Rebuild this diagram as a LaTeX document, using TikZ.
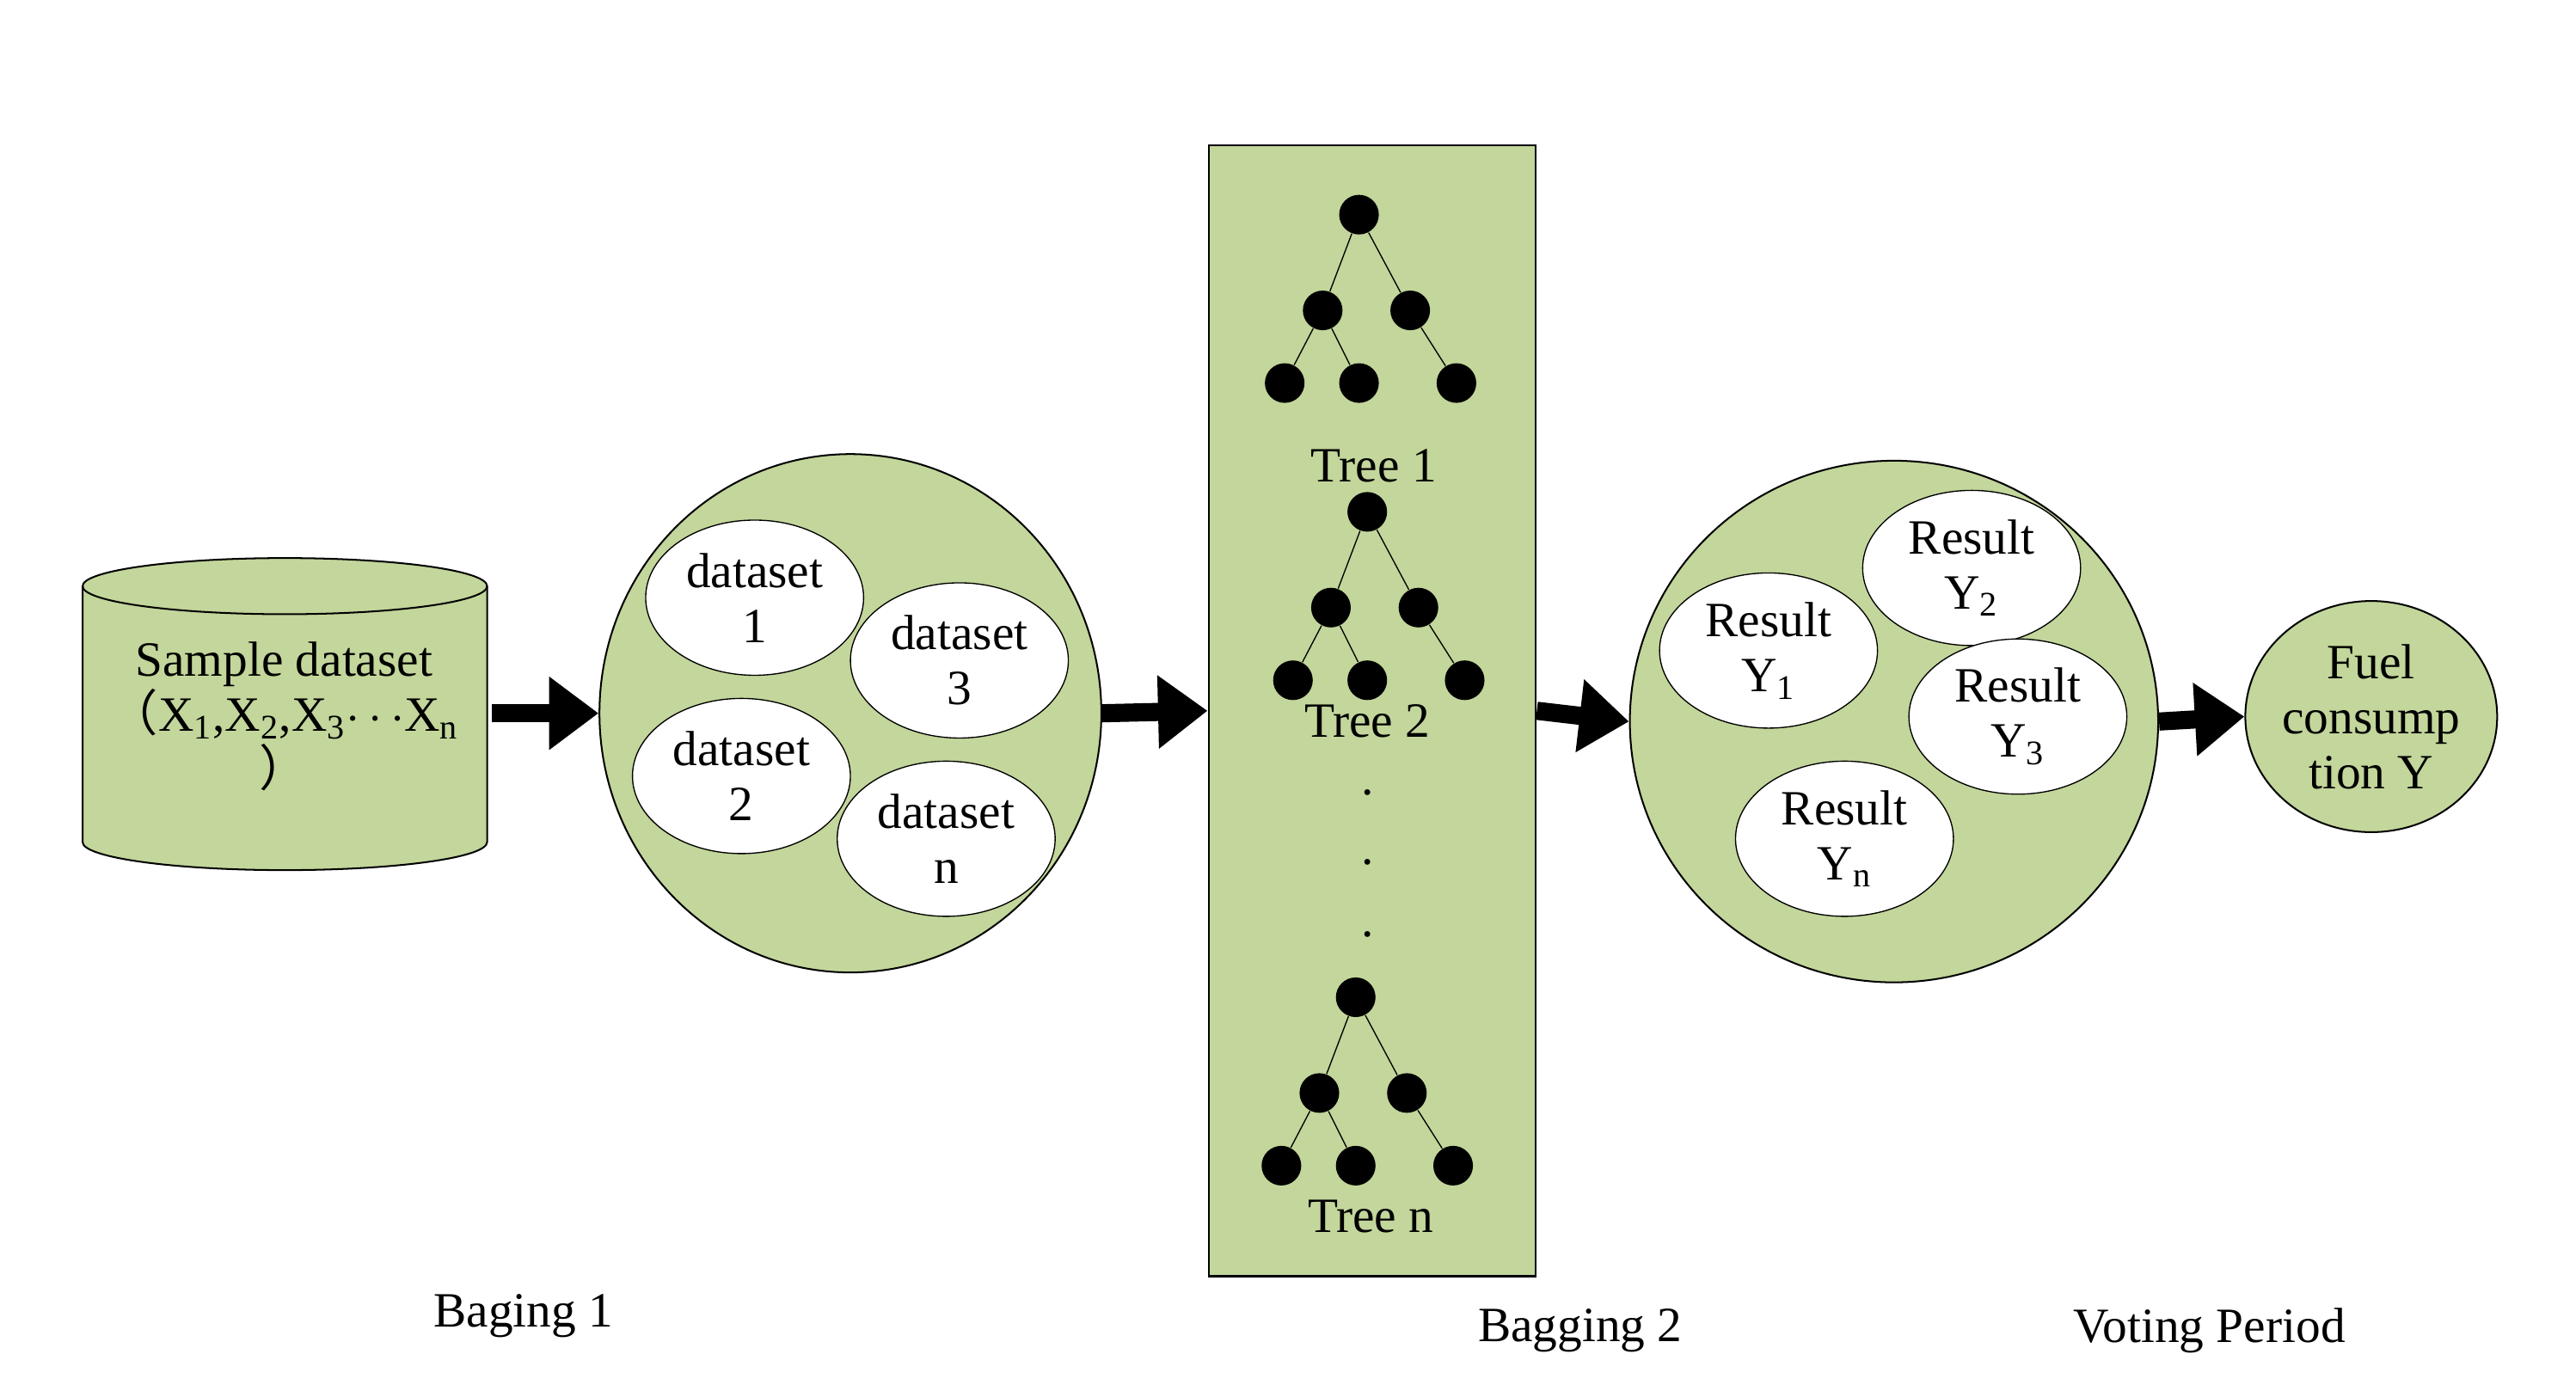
\documentclass[tikz,border=0pt]{standalone}
\usepackage{fontspec}
\setmainfont{Liberation Serif}
\newfontfamily\cjk{Noto Sans CJK SC}
\usetikzlibrary{arrows.meta,shapes.geometric}
\definecolor{lg}{HTML}{C3D69B}
\newcommand{\mytree}[3]{%
  \node[dot] (#1r) at (#2,#3) {};
  \node[dot] (#1a) at (#2-22,#3+58) {};
  \node[dot] (#1b) at (#2+31,#3+58) {};
  \node[dot] (#1c) at (#2-45,#3+102) {};
  \node[dot] (#1d) at (#2,#3+102) {};
  \node[dot] (#1e) at (#2+59,#3+102) {};
  \draw[thin] (#1r)--(#1a) (#1r)--(#1b) (#1a)--(#1c) (#1a)--(#1d) (#1b)--(#1e);}
\begin{document}
\begin{tikzpicture}[x=0.02cm,y=-0.02cm,
  txt/.style={font=\fontsize{17}{19}\selectfont,align=center,inner sep=0pt},
  dot/.style={circle,fill=black,minimum size=0.48cm,inner sep=0pt},
  big/.style={ellipse,draw,fill=lg,line width=0.6pt},
  sm/.style={ellipse,draw,fill=white,minimum width=2.64cm,minimum height=1.88cm,txt},
  arr/.style={line width=0.22cm,-{Triangle[length=0.6cm,width=0.85cm]}}]
\useasboundingbox (0,0) rectangle (1560,842);
% cylinder
\path[fill=lg,draw,line width=0.6pt] (50,355) -- (50,510) arc[start angle=180,end angle=0,x radius=122.5,y radius=17] -- (295,355) arc[start angle=0,end angle=-180,x radius=122.5,y radius=17] -- cycle;
\draw[line width=0.6pt] (50,355) arc[start angle=180,end angle=0,x radius=122.5,y radius=17];
\node[txt] (cyl) at (172,434) {Sample dataset\\{\cjk （}X\textsubscript{1},X\textsubscript{2},X\textsubscript{3}$\cdots$X\textsubscript{n}\\{\cjk ）}};
\coordinate (cylE) at (298,432);
% circle 1
\node[big,minimum width=6.08cm,minimum height=6.28cm] (c1) at (515,432) {};
\node[sm] (d1) at (457,362) {dataset\\1};
\node[sm] (d3) at (581,400) {dataset\\3};
\node[sm] (d2) at (449,470) {dataset\\2};
\node[sm] (dn) at (573,508) {dataset\\n};
% rectangle
\node[draw,fill=lg,line width=0.8pt,minimum width=3.96cm,minimum height=13.7cm,inner sep=0pt] (rect) at (831,430.5) {};
\mytree{a}{823}{130}
\node[txt] (t1) at (832,282) {Tree 1};
\mytree{b}{828}{310}
\node[txt] (t2) at (828,437) {Tree 2};
\node[txt] (p1) at (828,480) {.};
\node[txt] (p2) at (828,522) {.};
\node[txt] (p3) at (828,566) {.};
\mytree{c}{821}{604}
\node[txt] (tn) at (830,737) {Tree n};
% circle 2
\node[big,minimum width=6.4cm,minimum height=6.32cm] (c2) at (1147,437) {};
\node[sm] (r1) at (1071,394) {Result\\Y\textsubscript{1}};
\node[sm] (r2) at (1194,344) {Result\\Y\textsubscript{2}};
\node[sm] (r3) at (1222,434) {Result\\Y\textsubscript{3}};
\node[sm] (rn) at (1117,508) {Result\\Y\textsubscript{n}};
\node[big,minimum width=3cm,minimum height=2.8cm,txt] (fuel) at (1436,434) {Fuel\\consump\\tion Y};
% arrows
\draw[arr] (cylE) -- (c1.west);
\draw[arr] (c1.east) -- (rect.west);
\draw[arr] (rect.east) -- (c2.west);
\draw[arr] (c2.east) -- (fuel.west);
% labels
\node[txt] (l1) at (317,797) {Baging 1};
\node[txt] (l2) at (957,806) {Bagging 2};
\node[txt] (l3) at (1338,806) {Voting Period};
\end{tikzpicture}
\end{document}
